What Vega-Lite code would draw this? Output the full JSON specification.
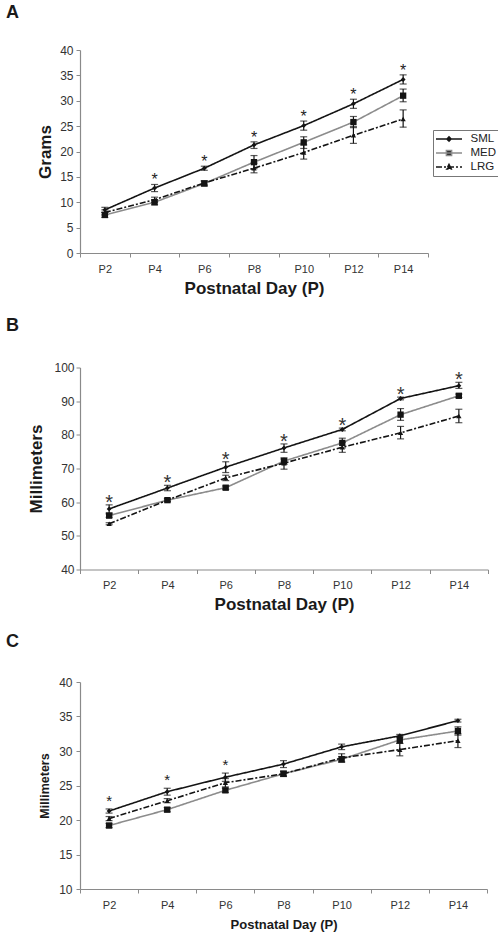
{
  "$schema": "https://vega.github.io/schema/vega-lite/v6.json",
  "background": "white",
  "padding": {"left": 6, "top": 4, "right": 4, "bottom": 4},
  "spacing": 20.5,
  "datasets": {
    "A": [
      {"day": "P2", "group": "SML", "mean": 8.5, "lo": 8.0, "hi": 9.0},
      {"day": "P4", "group": "SML", "mean": 12.8, "lo": 12.1, "hi": 13.5, "star": true},
      {"day": "P6", "group": "SML", "mean": 16.7, "lo": 16.3, "hi": 17.1, "star": true},
      {"day": "P8", "group": "SML", "mean": 21.3, "lo": 20.6, "hi": 21.9, "star": true},
      {"day": "P10", "group": "SML", "mean": 25.1, "lo": 24.2, "hi": 26.0, "star": true},
      {"day": "P12", "group": "SML", "mean": 29.4, "lo": 28.5, "hi": 30.3, "star": true},
      {"day": "P14", "group": "SML", "mean": 34.2, "lo": 33.3, "hi": 35.1, "star": true},
      {"day": "P2", "group": "MED", "mean": 7.5, "lo": 7.0, "hi": 8.0},
      {"day": "P4", "group": "MED", "mean": 10.0, "lo": 9.5, "hi": 10.5},
      {"day": "P6", "group": "MED", "mean": 13.7, "lo": 13.2, "hi": 14.2},
      {"day": "P8", "group": "MED", "mean": 17.9, "lo": 16.6, "hi": 19.2},
      {"day": "P10", "group": "MED", "mean": 21.8, "lo": 20.6, "hi": 22.9},
      {"day": "P12", "group": "MED", "mean": 25.8, "lo": 24.7, "hi": 26.9},
      {"day": "P14", "group": "MED", "mean": 31.0, "lo": 29.8, "hi": 32.3},
      {"day": "P2", "group": "LRG", "mean": 8.0, "lo": 7.5, "hi": 8.5},
      {"day": "P4", "group": "LRG", "mean": 10.5, "lo": 10.0, "hi": 11.0},
      {"day": "P6", "group": "LRG", "mean": 13.8, "lo": 13.4, "hi": 14.2},
      {"day": "P8", "group": "LRG", "mean": 16.7, "lo": 15.8, "hi": 17.7},
      {"day": "P10", "group": "LRG", "mean": 19.8, "lo": 18.5, "hi": 21.3},
      {"day": "P12", "group": "LRG", "mean": 23.2, "lo": 21.6, "hi": 24.9},
      {"day": "P14", "group": "LRG", "mean": 26.4, "lo": 24.8, "hi": 28.2}
    ],
    "B": [
      {"day": "P2", "group": "SML", "mean": 58.0, "lo": 56.8, "hi": 59.2, "star": true},
      {"day": "P4", "group": "SML", "mean": 64.2, "lo": 63.4, "hi": 65.0, "star": true},
      {"day": "P6", "group": "SML", "mean": 70.4, "lo": 68.8, "hi": 72.0, "star": true},
      {"day": "P8", "group": "SML", "mean": 76.1, "lo": 74.8, "hi": 77.3, "star": true},
      {"day": "P10", "group": "SML", "mean": 81.6, "lo": 81.2, "hi": 82.0, "star": true},
      {"day": "P12", "group": "SML", "mean": 90.8, "lo": 90.4, "hi": 91.2, "star": true},
      {"day": "P14", "group": "SML", "mean": 94.6, "lo": 93.8, "hi": 95.6, "star": true},
      {"day": "P2", "group": "MED", "mean": 56.0, "lo": 55.5, "hi": 56.5},
      {"day": "P4", "group": "MED", "mean": 60.6, "lo": 60.1, "hi": 61.1},
      {"day": "P6", "group": "MED", "mean": 64.3, "lo": 63.8, "hi": 64.8},
      {"day": "P8", "group": "MED", "mean": 72.2, "lo": 71.2, "hi": 73.2},
      {"day": "P10", "group": "MED", "mean": 77.6, "lo": 76.1, "hi": 79.0},
      {"day": "P12", "group": "MED", "mean": 86.0, "lo": 84.3, "hi": 87.8},
      {"day": "P14", "group": "MED", "mean": 91.6, "lo": 91.1, "hi": 92.1},
      {"day": "P2", "group": "LRG", "mean": 53.6, "lo": 53.3, "hi": 53.9},
      {"day": "P4", "group": "LRG", "mean": 60.6, "lo": 60.3, "hi": 60.9},
      {"day": "P6", "group": "LRG", "mean": 67.2, "lo": 66.4, "hi": 68.0},
      {"day": "P8", "group": "LRG", "mean": 71.6, "lo": 69.8, "hi": 72.8},
      {"day": "P10", "group": "LRG", "mean": 76.3, "lo": 74.8, "hi": 77.8},
      {"day": "P12", "group": "LRG", "mean": 80.6, "lo": 78.8, "hi": 82.5},
      {"day": "P14", "group": "LRG", "mean": 85.6, "lo": 83.6, "hi": 87.6}
    ],
    "C": [
      {"day": "P2", "group": "SML", "mean": 21.3, "lo": 21.0, "hi": 21.6, "star": true},
      {"day": "P4", "group": "SML", "mean": 24.1, "lo": 23.6, "hi": 24.6, "star": true},
      {"day": "P6", "group": "SML", "mean": 26.2, "lo": 25.6, "hi": 26.8, "star": true},
      {"day": "P8", "group": "SML", "mean": 28.1, "lo": 27.6, "hi": 28.6},
      {"day": "P10", "group": "SML", "mean": 30.6, "lo": 30.2, "hi": 31.0},
      {"day": "P12", "group": "SML", "mean": 32.2, "lo": 32.0, "hi": 32.4},
      {"day": "P14", "group": "SML", "mean": 34.4, "lo": 34.2, "hi": 34.6},
      {"day": "P2", "group": "MED", "mean": 19.2, "lo": 18.9, "hi": 19.5},
      {"day": "P4", "group": "MED", "mean": 21.5, "lo": 21.2, "hi": 21.8},
      {"day": "P6", "group": "MED", "mean": 24.3, "lo": 24.0, "hi": 24.6},
      {"day": "P8", "group": "MED", "mean": 26.7, "lo": 26.3, "hi": 27.1},
      {"day": "P10", "group": "MED", "mean": 28.8, "lo": 28.4, "hi": 29.2},
      {"day": "P12", "group": "MED", "mean": 31.6, "lo": 31.1, "hi": 32.1},
      {"day": "P14", "group": "MED", "mean": 32.9, "lo": 32.3, "hi": 33.5},
      {"day": "P2", "group": "LRG", "mean": 20.2, "lo": 19.9, "hi": 20.5},
      {"day": "P4", "group": "LRG", "mean": 22.8, "lo": 22.5, "hi": 23.1},
      {"day": "P6", "group": "LRG", "mean": 25.4, "lo": 24.8, "hi": 26.0},
      {"day": "P8", "group": "LRG", "mean": 26.7, "lo": 26.4, "hi": 27.0},
      {"day": "P10", "group": "LRG", "mean": 29.0, "lo": 28.4, "hi": 29.6},
      {"day": "P12", "group": "LRG", "mean": 30.2, "lo": 29.3, "hi": 31.1},
      {"day": "P14", "group": "LRG", "mean": 31.5, "lo": 30.5, "hi": 32.5}
    ]
  },
  "vconcat": [
    {
      "width": 348,
      "height": 203,
      "title": {"text": "A", "anchor": "start", "frame": "group", "dx": -74, "offset": 8, "baseline": "alphabetic", "fontSize": 18, "font": "Liberation Sans", "fontWeight": "bold", "color": "#1a1a1a"},
      "data": {"name": "A"},
      "encoding": {
        "x": {"field": "day", "type": "ordinal", "sort": ["P2", "P4", "P6", "P8", "P10", "P12", "P14"],
          "scale": {"type": "band", "paddingInner": 0, "paddingOuter": 0},
          "axis": {"title": "Postnatal Day (P)", "labelAngle": 0, "tickBand": "extent", "labelFontSize": 11, "labelPadding": 6, "titleFontSize": 17, "titlePadding": 6}}
      },
      "layer": [
        {"mark": {"type": "line", "strokeWidth": 1.6},
          "encoding": {
            "y": {"field": "mean", "type": "quantitative", "scale": {"domain": [0, 40], "nice": false, "zero": false},
              "axis": {"title": "Grams", "values": [0, 5, 10, 15, 20, 25, 30, 35, 40], "labelOverlap": false, "labelFontSize": 12, "labelPadding": 3, "titleFontSize": 17, "titlePadding": 5}},
            "color": {"field": "group", "type": "nominal", "scale": {"domain": ["SML", "MED", "LRG"], "range": ["#141414", "#8c8c8c", "#141414"]},
              "legend": {"title": null, "orient": "none", "legendX": 353, "legendY": 80, "strokeColor": "#777", "padding": 3, "symbolSize": 100, "symbolOffset": 7, "labelFontSize": 11.5, "labelFont": "Liberation Sans", "labelColor": "#222", "rowPadding": 2, "labelOffset": 15.5,
                "encode": {"symbols": {"update": {
                  "shape": {"signal": "datum.value === 'SML' ? 'M-2.6,0H2.6M0,-0.42L0.42,0L0,0.42L-0.42,0Z' : datum.value === 'MED' ? 'M-2.6,0H2.6M-0.52,-0.52H0.52V0.52H-0.52Z' : 'M-2.6,0H2.6M0,-0.52L0.46,0.42H-0.46Z'"},
                  "size": {"value": 100},
                  "fill": {"value": "#141414"},
                  "fillOpacity": {"value": 1},
                  "stroke": {"signal": "datum.value === 'MED' ? '#8c8c8c' : '#141414'"},
                  "strokeWidth": {"value": 1.5},
                  "strokeOpacity": {"value": 1},
                  "strokeDash": {"signal": "datum.value === 'LRG' ? [3, 2] : [1, 0]"},
                  "opacity": {"value": 1}}}}}},
            "strokeDash": {"field": "group", "type": "nominal", "scale": {"domain": ["SML", "MED", "LRG"], "range": [[1, 0], [1, 0], [6, 2, 2, 2]]}, "legend": null}
          }},
        {"mark": {"type": "rule", "color": "#141414", "strokeWidth": 1.2},
          "encoding": {"y": {"field": "lo", "type": "quantitative", "axis": {"title": "Grams", "values": [0, 5, 10, 15, 20, 25, 30, 35, 40], "labelOverlap": false, "labelFontSize": 12, "labelPadding": 3, "titleFontSize": 17, "titlePadding": 5}}, "y2": {"field": "hi"}}},
        {"mark": {"type": "tick", "color": "#141414", "thickness": 1.2, "size": 7, "orient": "horizontal"},
          "encoding": {"y": {"field": "hi", "type": "quantitative", "axis": {"title": "Grams", "values": [0, 5, 10, 15, 20, 25, 30, 35, 40], "labelOverlap": false, "labelFontSize": 12, "labelPadding": 3, "titleFontSize": 17, "titlePadding": 5}}}},
        {"mark": {"type": "tick", "color": "#141414", "thickness": 1.2, "size": 7, "orient": "horizontal"},
          "encoding": {"y": {"field": "lo", "type": "quantitative", "axis": {"title": "Grams", "values": [0, 5, 10, 15, 20, 25, 30, 35, 40], "labelOverlap": false, "labelFontSize": 12, "labelPadding": 3, "titleFontSize": 17, "titlePadding": 5}}}},
        {"transform": [{"filter": "datum.group === 'SML'"}], "mark": {"type": "point", "filled": true, "color": "#141414", "opacity": 1, "shape": "diamond", "size": 24},
          "encoding": {"y": {"field": "mean", "type": "quantitative", "axis": {"title": "Grams", "values": [0, 5, 10, 15, 20, 25, 30, 35, 40], "labelOverlap": false, "labelFontSize": 12, "labelPadding": 3, "titleFontSize": 17, "titlePadding": 5}}}},
        {"transform": [{"filter": "datum.group === 'MED'"}], "mark": {"type": "point", "filled": true, "color": "#141414", "opacity": 1, "shape": "square", "size": 40},
          "encoding": {"y": {"field": "mean", "type": "quantitative", "axis": {"title": "Grams", "values": [0, 5, 10, 15, 20, 25, 30, 35, 40], "labelOverlap": false, "labelFontSize": 12, "labelPadding": 3, "titleFontSize": 17, "titlePadding": 5}}}},
        {"transform": [{"filter": "datum.group === 'LRG'"}], "mark": {"type": "point", "filled": true, "color": "#141414", "opacity": 1, "shape": "triangle-up", "size": 28},
          "encoding": {"y": {"field": "mean", "type": "quantitative", "axis": {"title": "Grams", "values": [0, 5, 10, 15, 20, 25, 30, 35, 40], "labelOverlap": false, "labelFontSize": 12, "labelPadding": 3, "titleFontSize": 17, "titlePadding": 5}}}},
        {"transform": [{"filter": "datum.star"}],
          "mark": {"type": "text", "text": "*", "fontSize": 16, "baseline": "alphabetic", "dy": 1, "font": "Liberation Sans", "color": "#222"},
          "encoding": {"y": {"field": "hi", "type": "quantitative", "axis": {"title": "Grams", "values": [0, 5, 10, 15, 20, 25, 30, 35, 40], "labelOverlap": false, "labelFontSize": 12, "labelPadding": 3, "titleFontSize": 17, "titlePadding": 5}}}}
      ]
    },
    {
      "width": 408,
      "height": 202,
      "title": {"text": "B", "anchor": "start", "frame": "group", "dx": -74, "offset": 13, "baseline": "alphabetic", "fontSize": 18, "font": "Liberation Sans", "fontWeight": "bold", "color": "#1a1a1a"},
      "data": {"name": "B"},
      "encoding": {
        "x": {"field": "day", "type": "ordinal", "sort": ["P2", "P4", "P6", "P8", "P10", "P12", "P14"],
          "scale": {"type": "band", "paddingInner": 0, "paddingOuter": 0},
          "axis": {"title": "Postnatal Day (P)", "labelAngle": 0, "tickBand": "extent", "labelFontSize": 11, "labelPadding": 6, "titleFontSize": 17, "titlePadding": 6}}
      },
      "layer": [
        {"mark": {"type": "line", "strokeWidth": 1.6},
          "encoding": {
            "y": {"field": "mean", "type": "quantitative", "scale": {"domain": [40, 100], "nice": false, "zero": false},
              "axis": {"title": "Millimeters", "values": [40, 50, 60, 70, 80, 90, 100], "labelOverlap": false, "labelFontSize": 12, "labelPadding": 2, "titleFontSize": 17, "titlePadding": 8}},
            "color": {"field": "group", "type": "nominal", "scale": {"domain": ["SML", "MED", "LRG"], "range": ["#141414", "#8c8c8c", "#141414"]}, "legend": null},
            "strokeDash": {"field": "group", "type": "nominal", "scale": {"domain": ["SML", "MED", "LRG"], "range": [[1, 0], [1, 0], [6, 2, 2, 2]]}, "legend": null}
          }},
        {"mark": {"type": "rule", "color": "#141414", "strokeWidth": 1.2},
          "encoding": {"y": {"field": "lo", "type": "quantitative", "axis": {"title": "Millimeters", "values": [40, 50, 60, 70, 80, 90, 100], "labelOverlap": false, "labelFontSize": 12, "labelPadding": 2, "titleFontSize": 17, "titlePadding": 8}}, "y2": {"field": "hi"}}},
        {"mark": {"type": "tick", "color": "#141414", "thickness": 1.2, "size": 7, "orient": "horizontal"},
          "encoding": {"y": {"field": "hi", "type": "quantitative", "axis": {"title": "Millimeters", "values": [40, 50, 60, 70, 80, 90, 100], "labelOverlap": false, "labelFontSize": 12, "labelPadding": 2, "titleFontSize": 17, "titlePadding": 8}}}},
        {"mark": {"type": "tick", "color": "#141414", "thickness": 1.2, "size": 7, "orient": "horizontal"},
          "encoding": {"y": {"field": "lo", "type": "quantitative", "axis": {"title": "Millimeters", "values": [40, 50, 60, 70, 80, 90, 100], "labelOverlap": false, "labelFontSize": 12, "labelPadding": 2, "titleFontSize": 17, "titlePadding": 8}}}},
        {"transform": [{"filter": "datum.group === 'SML'"}], "mark": {"type": "point", "filled": true, "color": "#141414", "opacity": 1, "shape": "diamond", "size": 24},
          "encoding": {"y": {"field": "mean", "type": "quantitative", "axis": {"title": "Millimeters", "values": [40, 50, 60, 70, 80, 90, 100], "labelOverlap": false, "labelFontSize": 12, "labelPadding": 2, "titleFontSize": 17, "titlePadding": 8}}}},
        {"transform": [{"filter": "datum.group === 'MED'"}], "mark": {"type": "point", "filled": true, "color": "#141414", "opacity": 1, "shape": "square", "size": 40},
          "encoding": {"y": {"field": "mean", "type": "quantitative", "axis": {"title": "Millimeters", "values": [40, 50, 60, 70, 80, 90, 100], "labelOverlap": false, "labelFontSize": 12, "labelPadding": 2, "titleFontSize": 17, "titlePadding": 8}}}},
        {"transform": [{"filter": "datum.group === 'LRG'"}], "mark": {"type": "point", "filled": true, "color": "#141414", "opacity": 1, "shape": "triangle-up", "size": 28},
          "encoding": {"y": {"field": "mean", "type": "quantitative", "axis": {"title": "Millimeters", "values": [40, 50, 60, 70, 80, 90, 100], "labelOverlap": false, "labelFontSize": 12, "labelPadding": 2, "titleFontSize": 17, "titlePadding": 8}}}},
        {"transform": [{"filter": "datum.star"}],
          "mark": {"type": "text", "text": "*", "fontSize": 20, "baseline": "alphabetic", "dy": 4, "font": "Liberation Sans", "color": "#333"},
          "encoding": {"y": {"field": "hi", "type": "quantitative", "axis": {"title": "Millimeters", "values": [40, 50, 60, 70, 80, 90, 100], "labelOverlap": false, "labelFontSize": 12, "labelPadding": 2, "titleFontSize": 17, "titlePadding": 8}}}}
      ]
    },
    {
      "width": 407,
      "height": 207,
      "title": {"text": "C", "anchor": "start", "frame": "group", "dx": -74, "offset": 11, "baseline": "alphabetic", "fontSize": 18, "font": "Liberation Sans", "fontWeight": "bold", "color": "#1a1a1a"},
      "data": {"name": "C"},
      "encoding": {
        "x": {"field": "day", "type": "ordinal", "sort": ["P2", "P4", "P6", "P8", "P10", "P12", "P14"],
          "scale": {"type": "band", "paddingInner": 0, "paddingOuter": 0},
          "axis": {"title": "Postnatal Day (P)", "labelAngle": 0, "tickBand": "extent", "labelFontSize": 11, "labelPadding": 6, "titleFontSize": 13, "titlePadding": 8}}
      },
      "layer": [
        {"mark": {"type": "line", "strokeWidth": 1.6},
          "encoding": {
            "y": {"field": "mean", "type": "quantitative", "scale": {"domain": [10, 40], "nice": false, "zero": false},
              "axis": {"title": "Millimeters", "values": [10, 15, 20, 25, 30, 35, 40], "labelOverlap": false, "labelFontSize": 12, "labelPadding": 4, "titleFontSize": 12.5, "titlePadding": 7}},
            "color": {"field": "group", "type": "nominal", "scale": {"domain": ["SML", "MED", "LRG"], "range": ["#141414", "#8c8c8c", "#141414"]}, "legend": null},
            "strokeDash": {"field": "group", "type": "nominal", "scale": {"domain": ["SML", "MED", "LRG"], "range": [[1, 0], [1, 0], [6, 2, 2, 2]]}, "legend": null}
          }},
        {"mark": {"type": "rule", "color": "#141414", "strokeWidth": 1.2},
          "encoding": {"y": {"field": "lo", "type": "quantitative", "axis": {"title": "Millimeters", "values": [10, 15, 20, 25, 30, 35, 40], "labelOverlap": false, "labelFontSize": 12, "labelPadding": 4, "titleFontSize": 12.5, "titlePadding": 7}}, "y2": {"field": "hi"}}},
        {"mark": {"type": "tick", "color": "#141414", "thickness": 1.2, "size": 7, "orient": "horizontal"},
          "encoding": {"y": {"field": "hi", "type": "quantitative", "axis": {"title": "Millimeters", "values": [10, 15, 20, 25, 30, 35, 40], "labelOverlap": false, "labelFontSize": 12, "labelPadding": 4, "titleFontSize": 12.5, "titlePadding": 7}}}},
        {"mark": {"type": "tick", "color": "#141414", "thickness": 1.2, "size": 7, "orient": "horizontal"},
          "encoding": {"y": {"field": "lo", "type": "quantitative", "axis": {"title": "Millimeters", "values": [10, 15, 20, 25, 30, 35, 40], "labelOverlap": false, "labelFontSize": 12, "labelPadding": 4, "titleFontSize": 12.5, "titlePadding": 7}}}},
        {"transform": [{"filter": "datum.group === 'SML'"}], "mark": {"type": "point", "filled": true, "color": "#141414", "opacity": 1, "shape": "diamond", "size": 24},
          "encoding": {"y": {"field": "mean", "type": "quantitative", "axis": {"title": "Millimeters", "values": [10, 15, 20, 25, 30, 35, 40], "labelOverlap": false, "labelFontSize": 12, "labelPadding": 4, "titleFontSize": 12.5, "titlePadding": 7}}}},
        {"transform": [{"filter": "datum.group === 'MED'"}], "mark": {"type": "point", "filled": true, "color": "#141414", "opacity": 1, "shape": "square", "size": 40},
          "encoding": {"y": {"field": "mean", "type": "quantitative", "axis": {"title": "Millimeters", "values": [10, 15, 20, 25, 30, 35, 40], "labelOverlap": false, "labelFontSize": 12, "labelPadding": 4, "titleFontSize": 12.5, "titlePadding": 7}}}},
        {"transform": [{"filter": "datum.group === 'LRG'"}], "mark": {"type": "point", "filled": true, "color": "#141414", "opacity": 1, "shape": "triangle-up", "size": 28},
          "encoding": {"y": {"field": "mean", "type": "quantitative", "axis": {"title": "Millimeters", "values": [10, 15, 20, 25, 30, 35, 40], "labelOverlap": false, "labelFontSize": 12, "labelPadding": 4, "titleFontSize": 12.5, "titlePadding": 7}}}},
        {"transform": [{"filter": "datum.star"}],
          "mark": {"type": "text", "text": "*", "fontSize": 15, "baseline": "alphabetic", "dy": -3, "font": "Liberation Sans", "color": "#222"},
          "encoding": {"y": {"field": "hi", "type": "quantitative", "axis": {"title": "Millimeters", "values": [10, 15, 20, 25, 30, 35, 40], "labelOverlap": false, "labelFontSize": 12, "labelPadding": 4, "titleFontSize": 12.5, "titlePadding": 7}}}}
      ]
    }
  ],
  "resolve": {
    "scale": {"x": "independent", "y": "independent", "color": "independent", "strokeDash": "independent"},
    "legend": {"color": "independent", "strokeDash": "independent"}
  },
  "config": {
    "view": {"stroke": null},
    "font": "Liberation Sans",
    "axis": {"grid": false, "domainColor": "#8a8a8a", "domainWidth": 1.2, "tickColor": "#8a8a8a", "tickSize": 4, "tickWidth": 1, "labelColor": "#333", "labelFont": "Liberation Sans", "titleFont": "Liberation Sans", "titleFontWeight": "bold", "titleColor": "#1a1a1a"}
  }
}
